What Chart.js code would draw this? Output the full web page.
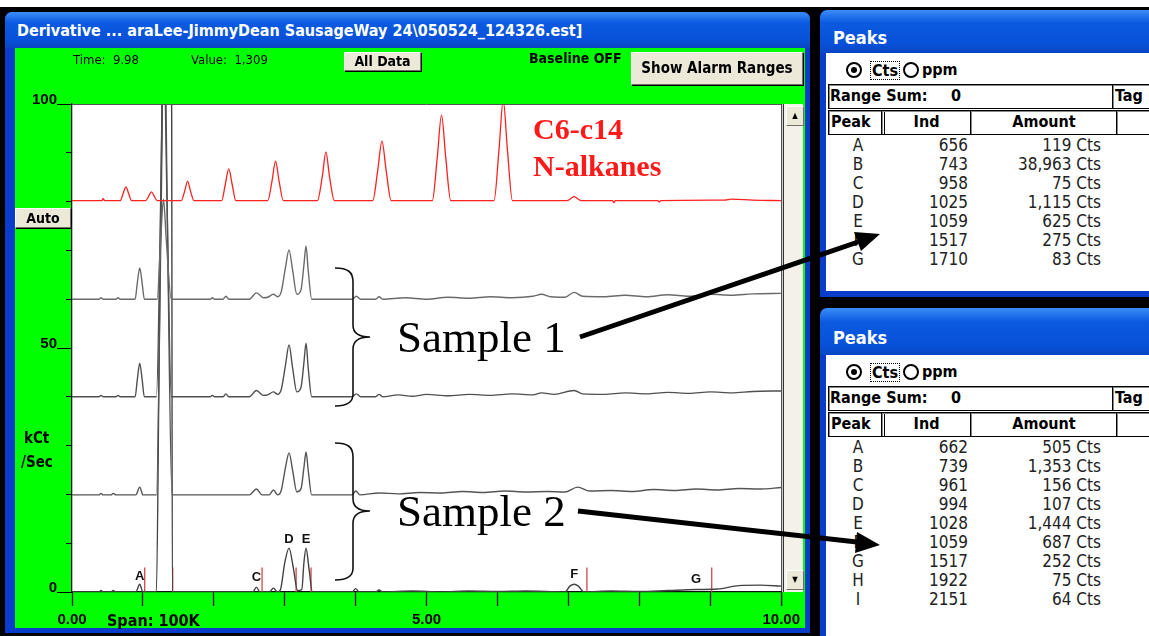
<!DOCTYPE html>
<html>
<head>
<meta charset="utf-8">
<script src="https://cdn.jsdelivr.net/npm/chart.js@4.4.0/dist/chart.umd.min.js"></script>
<style>
  body { margin: 0; width: 1149px; height: 636px; position: relative; overflow: hidden; background: #fff;
         font-family: "Liberation Sans Narrow", "Arial Narrow", "DejaVu Sans Condensed", sans-serif; }
  .abs { position: absolute; }
  #backdrop { left: 0; top: 7px; width: 1149px; height: 629px; background: #000; }
  #win { left: 5px; top: 12px; width: 805px; height: 621px; background: #0a3ccc; border-radius: 7px 7px 0 0; }
  #wintitle { left: 5px; top: 12px; width: 805px; height: 36px; border-radius: 7px 7px 0 0;
              background: linear-gradient(#3b8cf5, #0a5ae0 30%, #0850d8 80%, #0846c4); }
  #wintitle span { position: absolute; left: 12px; top: 9px; color: #fff; font-size: 16px; font-weight: bold; white-space: nowrap; }
  #chartbox { left: 15px; top: 48px; width: 790px; height: 580px; }
  .btn { position: absolute; background: #ece9d8; border: 1px solid; border-color: #fff #716f64 #716f64 #fff;
         box-shadow: 1px 1px 0 #000; font-weight: bold; font-size: 14px; text-align: center; color: #000; }
  .lbl { position: absolute; font-size: 13px; color: #000; white-space: nowrap; }
  #scroll { left: 783px; top: 104px; width: 19px; height: 488px; background: #f3f1ea; border-left: 1px solid #333; }
  .sbtn { position: absolute; left: 2px; width: 16px; height: 18px; background: #ece9d8; border: 1px solid;
          border-color: #fff #716f64 #716f64 #fff; font-size: 8px; text-align: center; line-height: 18px; }
  .peaks { position: absolute; left: 820px; width: 340px; background: #0a3ccc; border-radius: 7px 0 0 0; overflow: hidden; }
  .ptitle { position: absolute; left: 0; top: 0; width: 340px; border-radius: 7px 0 0 0;
            background: linear-gradient(#3b8cf5, #0a5ae0 30%, #0850d8 80%, #0846c4); }
  .ptitle span { position: absolute; left: 13px; color: #fff; font-weight: bold; font-size: 18px; }
  .pbody { position: absolute; left: 6px; width: 334px; background: #fff; }
  .box { position: absolute; border: 1px solid #000; box-shadow: inset 1px 1px 0 #888; font-weight: bold; font-size: 16px; line-height: 22px; }
  .row { position: absolute; font-size: 17px; line-height: 19px; color: #222; }
  svg { position: absolute; left: 0; top: 0; }
</style>
</head>
<body>
<div id="backdrop" class="abs"></div>
<div id="win" class="abs"></div>
<div id="wintitle" class="abs"><span>Derivative ... araLee-JimmyDean SausageWay 24\050524_124326.est]</span></div>
<div id="chartbox" class="abs"><canvas id="chart" width="790" height="580"></canvas></div>

<div class="lbl" style="left:73px;top:52px;">Time:&nbsp; 9.98</div>
<div class="lbl" style="left:191px;top:52px;">Value:&nbsp; 1,309</div>
<div class="btn" style="left:344px;top:52px;width:75px;height:17px;line-height:17px;">All Data</div>
<div class="lbl" style="left:529px;top:50px;font-weight:bold;font-size:14px;">Baseline OFF</div>
<div class="btn" style="left:631px;top:52px;width:170px;height:31px;line-height:31px;font-size:15px;">Show Alarm Ranges</div>
<div class="btn" style="left:15px;top:208px;width:54px;height:18px;line-height:18px;">Auto</div>
<div class="lbl" style="left:24px;top:429px;font-weight:bold;font-size:15px;">kCt</div>
<div class="lbl" style="left:21px;top:453px;font-weight:bold;font-size:15px;">/Sec</div>
<div class="lbl" style="left:107px;top:611px;font-weight:bold;font-size:16px;">Span: 100K</div>
<div id="scroll" class="abs">
  <div class="sbtn" style="top:2px;">&#9650;</div>
  <div class="sbtn" style="top:466px;">&#9660;</div>
</div>

<div id="panel1" class="peaks" style="top:10px;height:287px;"></div>
<div id="panel2" class="peaks" style="top:308px;height:340px;"></div>

<svg width="1149" height="636">
  <text x="533" y="139" font-family="Liberation Serif, Times New Roman, serif" font-weight="bold" font-size="30" fill="#ff1a1a">C6-c14</text>
  <text x="533" y="176" font-family="Liberation Serif, Times New Roman, serif" font-weight="bold" font-size="30" fill="#ff1a1a">N-alkanes</text>
  <path d="M335,268 C348,268 353,272 353,282 L353,325 C353,333 358,337 370,337 C358,337 353,341 353,349 L353,394 C353,402 348,406 335,406" fill="none" stroke="#111" stroke-width="1.6"/>
  <path d="M335,443 C348,443 353,447 353,457 L353,499 C353,507 358,511 370,511 C358,511 353,515 353,523 L353,568 C353,576 348,580 335,580" fill="none" stroke="#111" stroke-width="1.6"/>
  <text x="397" y="352" font-family="Liberation Serif, Times New Roman, serif" font-size="45" fill="#000">Sample 1</text>
  <text x="397" y="526" font-family="Liberation Serif, Times New Roman, serif" font-size="45" fill="#000">Sample 2</text>
  <line x1="580" y1="337" x2="858" y2="242" stroke="#000" stroke-width="5"/>
  <polygon points="880,234 861,251 854,232" fill="#000"/>
  <line x1="578" y1="511" x2="857" y2="542" stroke="#000" stroke-width="5"/>
  <polygon points="880,545 855,553 857,532" fill="#000"/>
</svg>

<script>
// axis range and labels
const xLabelled = [0, 5, 10];
const yLabelled = [0, 50, 100];

// C6-C14 n-alkane standard (red), offset to ~80 kCt/Sec
const alkanes = [[0,80.2],[0.1,80.2],[0.42,80.2],[0.44,80.6],[0.46,80.2],[0.68,80.2],[0.72,81.6],[0.76,83.0],[0.80,81.6],[0.84,80.2],
  [1.04,80.2],[1.08,81.1],[1.12,82.0],[1.16,81.1],[1.20,80.2],[1.54,80.2],[1.59,82.2],[1.63,84.2],[1.67,82.2],[1.72,80.2],
  [2.11,80.2],[2.16,83.4],[2.21,86.7],[2.26,83.4],[2.31,80.2],[2.76,80.2],[2.82,84.2],[2.87,88.3],[2.92,84.2],[2.98,80.2],
  [3.46,80.2],[3.53,85.2],[3.58,90.2],[3.63,85.2],[3.70,80.2],[4.24,80.2],[4.31,86.3],[4.37,92.4],[4.43,86.3],[4.50,80.2],
  [5.08,80.2],[5.15,89.0],[5.21,97.7],[5.27,89.0],[5.34,80.2],[5.95,80.2],[6.02,90.5],[6.08,100.8],[6.14,90.5],[6.21,80.2],
  [6.98,80.2],[7.08,81.0],[7.18,80.2],[7.62,80.2],[7.64,79.8],[7.66,80.2],[8.26,80.2],[8.28,79.9],[8.30,80.2],
  [9.20,80.3],[9.30,80.5],[9.60,80.3],[10,80.2]];

// Sample 1, run a (baseline ~60)
const sample1a = [[0,60],[0.38,60],[0.41,60.3],[0.44,60],[0.62,60],[0.65,60.3],[0.68,60],[0.89,60],[0.92,63.2],[0.955,66.4],[0.99,63.2],[1.02,60],
  [1.20,60],[1.25,72],[1.29,80.5],[1.33,72],[1.40,60],[1.95,60],[1.98,60.3],[2.01,60],[2.13,60],[2.17,60.6],[2.21,60],
  [2.50,60],[2.60,61.3],[2.70,60.3],[2.76,60.4],[2.84,61],[2.90,60.5],[2.95,61.5],[3.01,66.5],[3.06,70.1],[3.11,66],[3.17,61],
  [3.23,62],[3.27,67],[3.30,70.9],[3.33,66],[3.38,60],[3.95,60],[4.01,60.6],[4.07,60],[4.28,60],[4.33,60.5],[4.38,60],
  [4.7,60.3],[5.0,60],[5.3,60.4],[5.6,60.2],[5.9,60.5],[6.2,60.3],[6.5,60.6],[6.62,61],[6.75,60.5],[6.95,60.4],[7.08,61.4],[7.2,60.6],
  [7.5,60.5],[7.8,60.8],[8.1,60.5],[8.4,60.9],[8.7,60.6],[9.0,61],[9.3,60.8],[9.6,61.1],[10,61.2]];

// Sample 1, run b (baseline ~40)
const sample1b = [[0,40],[0.38,40],[0.41,40.3],[0.44,40],[0.62,40],[0.65,40.3],[0.68,40],[0.89,40],[0.92,43.4],[0.955,46.9],[0.99,43.4],[1.02,40],
  [1.19,40],[1.25,80],[1.29,115],[1.34,80],[1.40,40],[1.95,40],[1.98,40.3],[2.01,40],[2.13,40],[2.17,40.6],[2.21,40],
  [2.50,40],[2.60,41.3],[2.70,40.3],[2.76,40.4],[2.84,41],[2.90,40.5],[2.95,41.5],[3.01,46.5],[3.06,50.6],[3.11,46],[3.17,41],
  [3.23,42],[3.27,47],[3.30,51],[3.33,46],[3.38,40],[3.95,40],[4.01,40.6],[4.07,40],[4.28,40],[4.33,40.5],[4.38,40],
  [4.6,40.4],[4.8,40.1],[5.0,40.5],[5.3,40.2],[5.6,40.5],[5.9,40.3],[6.2,40.6],[6.5,40.4],[6.62,40.8],[6.8,40.5],[7.08,41.3],[7.2,40.6],
  [7.5,40.5],[7.8,40.8],[8.1,40.6],[8.4,40.9],[8.7,40.7],[9.0,41],[9.3,40.8],[9.6,41.1],[10,41.2]];

// Sample 2, run a (baseline ~20)
const sample2a = [[0,19.9],[0.38,19.9],[0.41,20.2],[0.44,19.9],[0.55,19.9],[0.58,20.2],[0.62,19.9],[0.9,19.9],[0.955,21.5],[1.0,19.9],
  [1.19,19.9],[1.25,70],[1.30,120],[1.35,70],[1.41,19.9],[2.50,19.9],[2.60,21.1],[2.68,19.9],[2.78,19.9],[2.84,20.9],[2.90,19.9],
  [2.95,20.8],[3.01,25.5],[3.06,28.5],[3.11,25],[3.17,20.5],[3.23,21.2],[3.27,25.5],[3.30,28.7],[3.33,25],[3.38,19.9],
  [3.95,19.9],[4.0,20.7],[4.06,19.9],[4.33,20.3],[4.6,20.1],[4.9,20.4],[5.2,20.3],[5.5,20.6],[5.8,20.4],[6.1,20.7],[6.4,20.5],
  [6.7,20.6],[6.95,20.5],[7.13,21.5],[7.3,20.7],[7.6,20.8],[7.9,20.6],[8.2,21],[8.5,20.8],[8.8,21.1],[9.1,20.9],[9.4,21.2],[9.7,21.1],[10,21.4]];

// Sample 2, run b (baseline 0, peaks lettered)
const sample2b = [[0,0],[0.38,0],[0.41,0.3],[0.44,0],[0.55,0],[0.58,0.3],[0.62,0],[0.9,0],[0.955,1.6],[1.0,0],
  [1.19,0],[1.23,50],[1.27,100],[1.33,145],[1.405,100],[1.415,0],[2.55,0],[2.6,1],[2.65,0],[2.78,0],[2.84,0.8],[2.9,0],
  [2.94,0.5],[3.0,6],[3.06,9],[3.12,5],[3.18,0.3],[3.24,0.5],[3.27,6],[3.30,9],[3.34,5],[3.39,0],
  [3.95,0],[4.0,0.7],[4.05,0],[4.28,0],[4.33,0.4],[4.38,0],[4.8,0.2],[5.2,0],[5.6,0.2],[6.0,0.1],[6.4,0.2],
  [6.95,0],[7.02,1.2],[7.08,1.6],[7.14,1.2],[7.22,0],[7.6,0.2],[8.0,0.1],[8.4,0.3],[8.8,0.5],[9.1,0.6],[9.4,1.3],[9.7,1.4],[10,1.2]];

// integration markers and peak letters on the bottom trace
const markerX = [1.025, 1.42, 2.68, 3.16, 3.37, 7.26, 9.02];
const markerTop = 5;
const peakLetters = ['A', 'C', 'D', 'E', 'F', 'G'];
const peakLabelX = [0.955, 2.6, 3.06, 3.30, 7.08, 8.80];
const peakLabelY = [3.1, 2.9, 10.8, 10.8, 3.5, 2.5];

// peaks tables
const peaks1Letters = ['A', 'B', 'C', 'D', 'E', 'F', 'G'];
const peaks1Ind = [656, 743, 958, 1025, 1059, 1517, 1710];
const peaks1Amt = ['119', '38,963', '75', '1,115', '625', '275', '83'];
const peaks2Letters = ['A', 'B', 'C', 'D', 'E', 'F', 'G', 'H', 'I'];
const peaks2Ind = [662, 739, 961, 994, 1028, 1059, 1517, 1922, 2151];
const peaks2Amt = ['505', '1,353', '156', '107', '1,444', '687', '252', '75', '64'];

const toXY = pts => pts.map(p => ({ x: p[0], y: p[1] }));
const markerData = markerX.flatMap(x => [{ x, y: 0 }, { x, y: markerTop }, { x, y: null }]);

const trace = (data, color, width) => ({
    data: toXY(data), borderColor: color, borderWidth: width,
    pointRadius: 0, cubicInterpolationMode: 'monotone', fill: false
});

const bgPlugin = {
    id: 'bg',
    beforeDraw(chart) {
        const c = chart.ctx, a = chart.chartArea;
        c.save();
        c.fillStyle = '#00ff00';
        c.fillRect(0, 0, chart.width, chart.height);
        c.fillStyle = '#fff';
        c.fillRect(a.left, a.top, a.right - a.left + 2, a.bottom - a.top);
        c.restore();
    },
    afterDatasetsDraw(chart) {
        const c = chart.ctx, xs = chart.scales.x, ys = chart.scales.y, a = chart.chartArea;
        c.save();
        c.fillStyle = '#111';
        c.font = 'bold 13px "Liberation Sans", Arial, sans-serif';
        c.textAlign = 'center';
        c.textBaseline = 'middle';
        peakLetters.forEach((t, i) => c.fillText(t, xs.getPixelForValue(peakLabelX[i]), ys.getPixelForValue(peakLabelY[i])));
        // frame top / right
        c.strokeStyle = '#555';
        c.lineWidth = 1;
        c.beginPath();
        c.moveTo(a.left, a.top + 0.5); c.lineTo(a.right, a.top + 0.5);
        c.stroke();
        c.strokeStyle = '#222';
        c.beginPath();
        c.moveTo(a.right + 0.5, a.top); c.lineTo(a.right + 0.5, a.bottom + 14);
        c.stroke();
        // long ticks for labelled y values
        c.strokeStyle = '#000';
        yLabelled.forEach(v => {
            const y = Math.round(ys.getPixelForValue(v)) + 0.5;
            c.beginPath(); c.moveTo(a.left - 15, y); c.lineTo(a.left, y); c.stroke();
        });
        c.restore();
    }
};

new Chart(document.getElementById('chart'), {
    type: 'line',
    data: {
        datasets: [
            trace(alkanes, '#ff2020', 1.3),
            trace(sample1a, '#6a6a6a', 1.4),
            trace(sample1b, '#505050', 1.4),
            trace(sample2a, '#555555', 1.4),
            trace(sample2b, '#444444', 1.4),
            { data: markerData, borderColor: '#d04848', borderWidth: 1.3, pointRadius: 0, spanGaps: false, tension: 0 }
        ]
    },
    options: {
        responsive: false,
        animation: false,
        layout: { padding: { top: 56, right: 21, left: 0, bottom: 0 } },
        plugins: { legend: { display: false }, tooltip: { enabled: false } },
        scales: {
            x: {
                type: 'linear', min: 0, max: 10,
                afterFit: s => { s.height = 36; },
                grid: { drawOnChartArea: false, tickLength: 14, color: '#111', tickWidth: 1.3 },
                border: { color: '#111', width: 1.3 },
                ticks: {
                    stepSize: 1, autoSkip: false, maxRotation: 0, padding: 5, color: '#000',
                    font: { family: '"Liberation Sans", Arial, sans-serif', weight: 'bold', size: 15 },
                    callback: v => xLabelled.includes(v) ? v.toFixed(2) : ''
                }
            },
            y: {
                min: 0, max: 100,
                afterFit: s => { s.width = 57; },
                grid: { drawOnChartArea: false, tickLength: 6, color: '#111' },
                border: { color: '#111', width: 1.3 },
                ticks: {
                    stepSize: 10, autoSkip: false, padding: 9, color: '#000', labelOffset: -4,
                    font: { family: '"Liberation Sans", Arial, sans-serif', weight: 'bold', size: 15 },
                    callback: v => yLabelled.includes(v) ? String(v) : ''
                }
            }
        }
    },
    plugins: [bgPlugin]
});

// Peaks side panels
function buildPanel(el, titleH, letters, inds, amts) {
    let html = `<div class="ptitle" style="height:${titleH}px"><span style="top:${titleH / 2 - 5}px">Peaks</span></div>`;
    html += `<div class="pbody" style="top:${titleH}px;height:${el.offsetHeight - titleH - 6}px">`;
    html += `<div style="position:absolute;left:20px;top:9px;width:12px;height:12px;border:2px solid #000;border-radius:50%;"></div>`;
    html += `<div style="position:absolute;left:25px;top:14px;width:6px;height:6px;background:#000;border-radius:50%;"></div>`;
    html += `<div style="position:absolute;left:44px;top:8px;font-size:16px;font-weight:bold;border:1px dotted #000;padding:0 1px;line-height:17px;">Cts</div>`;
    html += `<div style="position:absolute;left:77px;top:9px;width:12px;height:12px;border:2px solid #000;border-radius:50%;"></div>`;
    html += `<div style="position:absolute;left:96px;top:7px;font-size:16px;font-weight:bold;line-height:20px;">ppm</div>`;
    html += `<div class="box" style="left:2px;top:31px;width:284px;height:23px;"><span style="margin-left:1px">Range Sum:</span><span style="position:absolute;left:122px">0</span></div>`;
    html += `<div class="box" style="left:286px;top:31px;width:50px;height:23px;padding-left:2px">Tag</div>`;
    html += `<div class="box" style="left:2px;top:57px;width:53px;height:23px;padding-left:2px">Peak</div>`;
    html += `<div class="box" style="left:55px;top:57px;width:89px;height:23px;text-align:center">Ind</div>`;
    html += `<div class="box" style="left:144px;top:57px;width:146px;height:23px;text-align:center">Amount</div>`;
    html += `<div class="box" style="left:290px;top:57px;width:50px;height:23px;"></div>`;
    letters.forEach((t, i) => {
        const top = 83 + i * 19;
        html += `<div class="row" style="left:20px;top:${top}px;width:24px;text-align:center">${t}</div>`;
        html += `<div class="row" style="left:60px;top:${top}px;width:82px;text-align:right">${inds[i]}</div>`;
        html += `<div class="row" style="left:150px;top:${top}px;width:125px;text-align:right">${amts[i]} Cts</div>`;
    });
    html += `</div>`;
    el.innerHTML = html;
}
buildPanel(document.getElementById('panel1'), 43, peaks1Letters, peaks1Ind, peaks1Amt);
buildPanel(document.getElementById('panel2'), 47, peaks2Letters, peaks2Ind, peaks2Amt);
</script>
</body>
</html>
